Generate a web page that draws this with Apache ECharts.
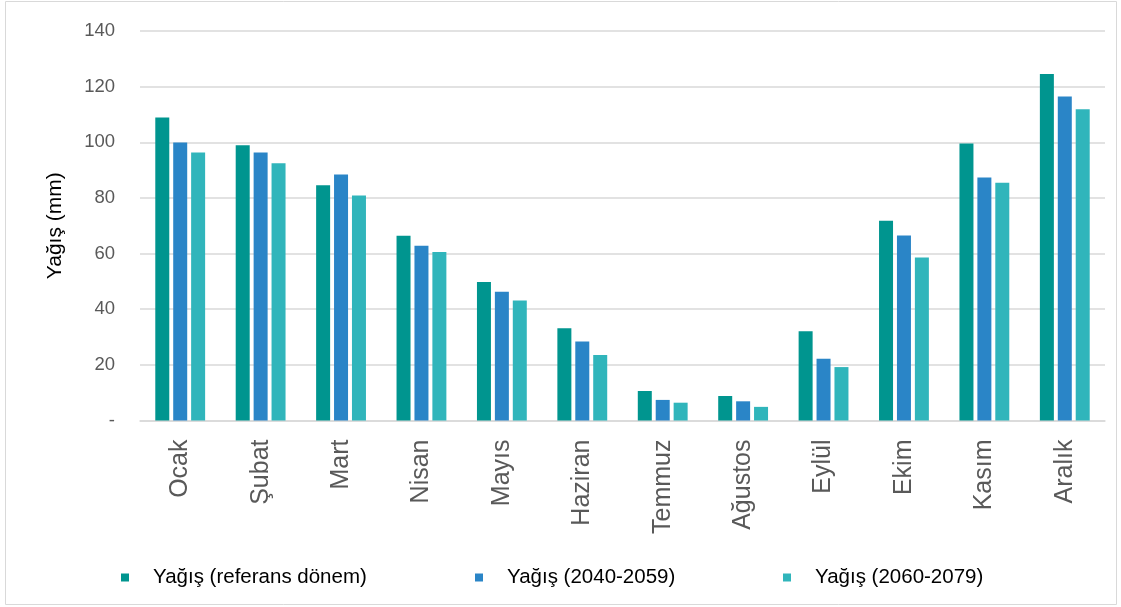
<!DOCTYPE html>
<html>
<head>
<meta charset="utf-8">
<script src="https://cdn.jsdelivr.net/npm/echarts@6/dist/echarts.min.js"></script>
<style>
html,body{margin:0;padding:0;background:#fff;}
#chart{width:1121px;height:607px;}
</style>
</head>
<body>
<div id="chart"></div>
<script>
const categories = ['Ocak','Şubat','Mart','Nisan','Mayıs','Haziran','Temmuz','Ağustos','Eylül','Ekim','Kasım','Aralık'];
const seriesNames = ['Yağış (referans dönem)','Yağış (2040-2059)','Yağış (2060-2079)'];
const refValues = [108.9, 98.9, 84.6, 66.4, 49.8, 33.2, 10.6, 8.8, 32.1, 71.8, 99.6, 124.5];
const mid2040Values = [99.9, 96.3, 88.4, 62.8, 46.3, 28.4, 7.4, 6.9, 22.2, 66.5, 87.3, 116.5];
const late2060Values = [96.3, 92.5, 80.9, 60.6, 43.1, 23.5, 6.4, 4.9, 19.2, 58.6, 85.5, 111.9];
const yTicks = [0, 20, 40, 60, 80, 100, 120, 140];
const colors = ['#00958F', '#2A85C7', '#30B5BB'];

const font = 'Liberation Sans, Arial, sans-serif';
const chart = echarts.init(document.getElementById('chart'), null, {renderer: 'canvas'});

const legendLefts = [116, 470, 778];
const seriesData = [refValues, mid2040Values, late2060Values];

chart.setOption({
  animation: false,
  color: colors,
  graphic: [{
    type: 'rect',
    shape: {x: 5.5, y: 1.5, width: 1111, height: 603},
    style: {fill: 'none', stroke: '#D9D9D9', lineWidth: 1},
    silent: true
  }],
  grid: {left: 140, right: 16, top: 31, bottom: 186.5, containLabel: false},
  legend: seriesNames.map((n, i) => ({
    data: [n],
    left: legendLefts[i],
    top: 562,
    icon: 'rect',
    itemWidth: 8,
    itemHeight: 8,
    textStyle: {fontFamily: font, fontSize: 20.5, color: '#000', padding: [0, 0, 0, 19]}
  })),
  xAxis: {
    type: 'category',
    data: categories,
    axisTick: {show: false},
    axisLine: {lineStyle: {color: '#D9D9D9', width: 1.5}},
    axisLabel: {
      rotate: 90,
      margin: 19,
      color: '#595959',
      fontFamily: font,
      fontSize: 25
    }
  },
  yAxis: {
    type: 'value',
    min: yTicks[0],
    max: yTicks[yTicks.length - 1],
    interval: 20,
    name: 'Yağış (mm)',
    nameLocation: 'middle',
    nameGap: 74,
    nameTextStyle: {fontFamily: font, fontSize: 21, color: '#000'},
    axisLine: {show: false},
    axisTick: {show: false},
    axisLabel: {
      margin: 25,
      color: '#595959',
      fontFamily: font,
      fontSize: 18.5,
      formatter: v => (v === 0 ? '-' : String(v))
    },
    splitLine: {lineStyle: {color: '#D9D9D9', width: 1.5}}
  },
  series: seriesNames.map((n, i) => ({
    name: n,
    type: 'bar',
    data: seriesData[i],
    barWidth: 14,
    barGap: '28%',
    itemStyle: {color: colors[i]}
  }))
});
</script>
</body>
</html>
